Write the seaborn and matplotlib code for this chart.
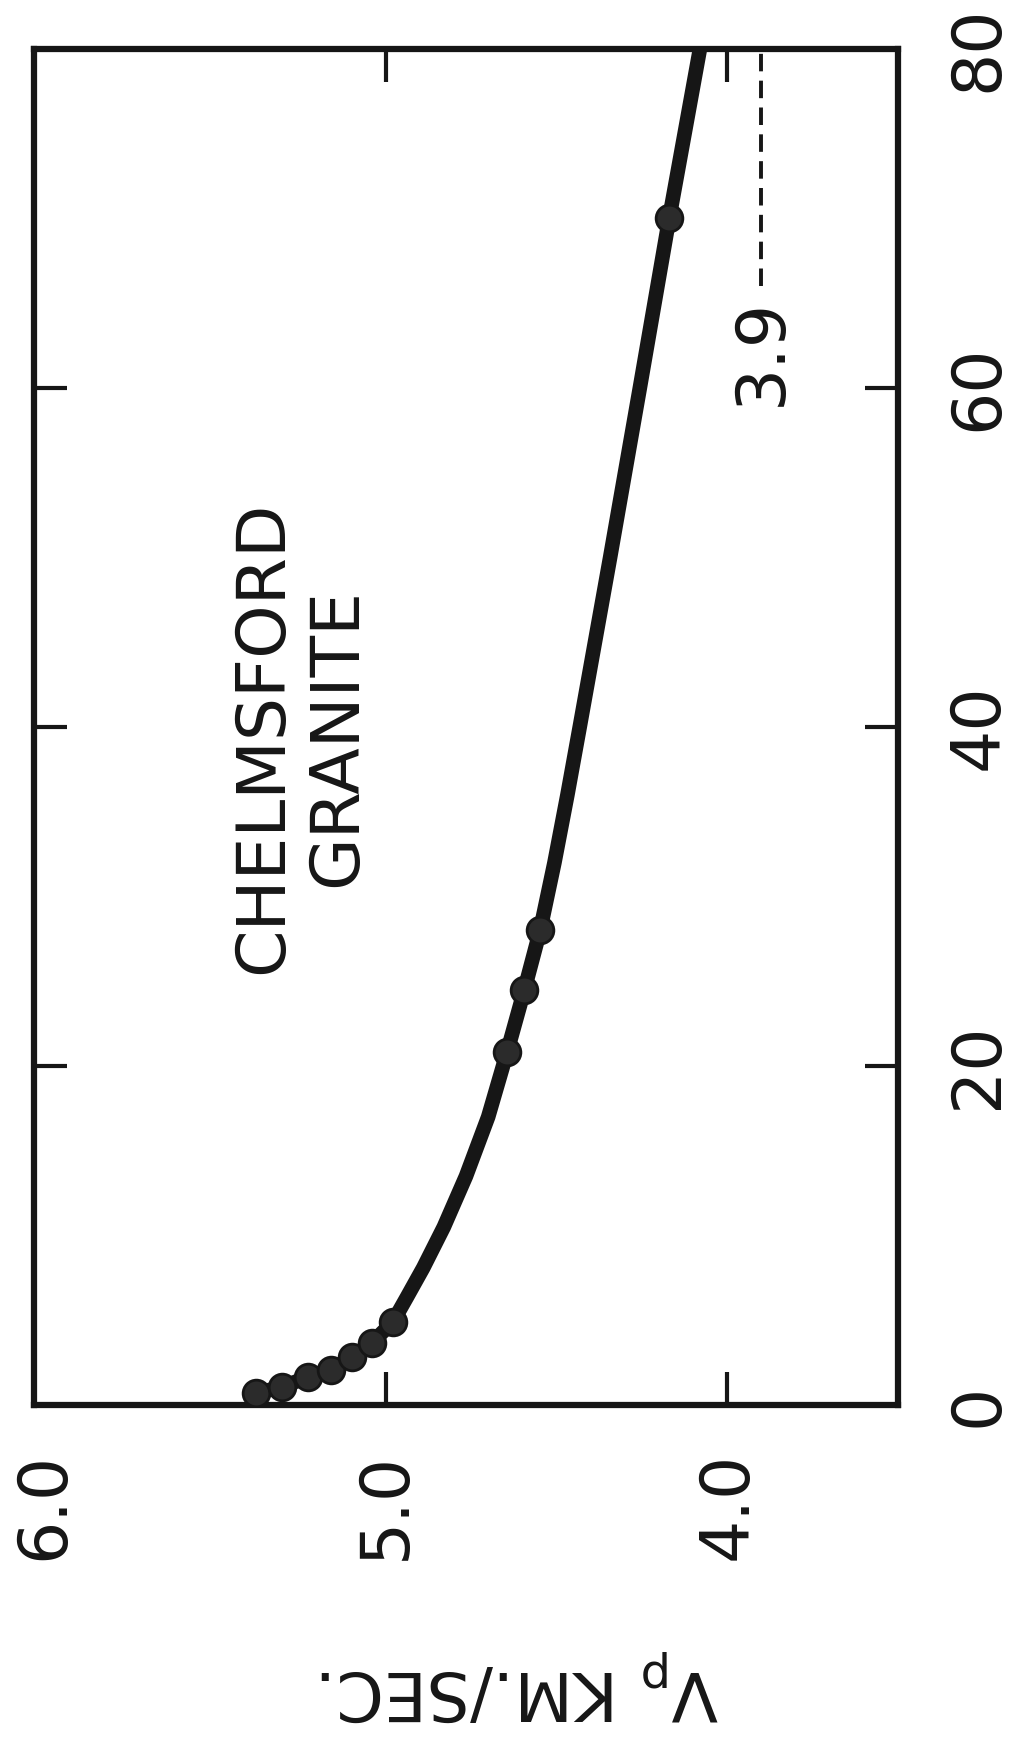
import matplotlib
matplotlib.use("Agg")
import matplotlib.pyplot as plt
import seaborn as sns
import pandas as pd

# ---- data (pressure, P-wave velocity km/s) ----
curve_p = [0.71, 1.06, 1.65, 2.06, 2.83, 3.66, 4.9, 6.4, 8.1, 10.5, 13.5, 17.0,
           20.8, 24.5, 28.0, 32.0, 36.0, 40.0, 50.0, 60.0, 70.0, 80.0]
curve_vp = [5.379, 5.303, 5.229, 5.159, 5.100, 5.041, 4.979, 4.937, 4.890, 4.830, 4.765, 4.700,
            4.645, 4.594, 4.548, 4.506, 4.468, 4.432, 4.343, 4.256, 4.170, 4.080]

meas_p = [0.71, 1.06, 1.65, 2.06, 2.83, 3.66, 4.9, 20.8, 24.5, 28.0, 70.0]
meas_vp = [5.379, 5.303, 5.229, 5.159, 5.100, 5.041, 4.979, 4.645, 4.594, 4.548, 4.170]

limit_vp = 3.9
limit_p = [66.0, 80.0]

vp_ticks = [6.0, 5.0, 4.0]
vp_ticklabels = ["6.0", "5.0", "4.0"]
p_ticks = [0, 20, 40, 60, 80]
p_ticklabels = ["0", "20", "40", "60", "80"]

title_text = "CHELMSFORD\nGRANITE"
axis_label = r"$\mathregular{V_p}$ KM./SEC."

# ---- drawing ----
sns.set_style("white")
plt.rcParams["font.family"] = ["DejaVu Sans"]
FS = 49

fig = plt.figure(figsize=(10.09, 17.44), dpi=100)
ax = fig.add_axes([34 / 1009, 1 - 1405 / 1744, (898 - 34) / 1009, (1405 - 49) / 1744])

ink = "#161616"
curve_df = pd.DataFrame({"vp": curve_vp, "p": curve_p})
sns.lineplot(data=curve_df, x="vp", y="p", sort=False, estimator=None,
             color=ink, lw=10.5, ax=ax, solid_capstyle="round",
             solid_joinstyle="round")
meas_df = pd.DataFrame({"vp": meas_vp, "p": meas_p})
sns.scatterplot(data=meas_df, x="vp", y="p", s=370, color="#2b2b2b",
                edgecolor=ink, linewidth=2, ax=ax, zorder=5)

ax.plot([limit_vp, limit_vp], limit_p, color=ink, lw=2.8, dashes=(4.5, 2.4))
ax.text(limit_vp, 62.1, "3.9", rotation=90, ha="center", va="center",
        fontsize=FS, color=ink)

ax.text(5.25, 39.4, title_text, rotation=90, ha="center", va="center",
        multialignment="center", fontsize=FS, color=ink, linespacing=1.15)

ax.set_xlim(6.03, 3.50)
ax.set_ylim(0, 80)

ax.set_xticks(vp_ticks)
ax.set_xticklabels(vp_ticklabels)
ax.set_yticks(p_ticks)
ax.set_yticklabels(p_ticklabels)

ax.tick_params(axis="both", direction="in", length=24, width=3, color=ink,
               top=True, bottom=True, left=True, right=True,
               labelsize=FS, labelcolor=ink)
ax.tick_params(axis="x", labelrotation=90, pad=34)
ax.tick_params(axis="y", labelleft=False, labelright=True, labelrotation=90, pad=34)
for lab in ax.get_yticklabels():
    lab.set_va("center")

first = ax.xaxis.get_major_ticks()[0]
first.tick1line.set_visible(False)
first.tick2line.set_visible(False)
for t in (ax.yaxis.get_major_ticks()[0], ax.yaxis.get_major_ticks()[-1]):
    t.tick1line.set_visible(False)
    t.tick2line.set_visible(False)

for sp in ax.spines.values():
    sp.set_linewidth(4.5)
    sp.set_color(ink)
    sp.set_visible(True)

ax.set_xlabel(axis_label, rotation=180, fontsize=FS, color=ink)
ax.xaxis.set_label_coords((520 - 34) / 864, (1405 - 1685) / 1356)
ax.xaxis.label.set_va("center")
ax.set_ylabel("")

fig.savefig("out.png", dpi=100, facecolor="white")
